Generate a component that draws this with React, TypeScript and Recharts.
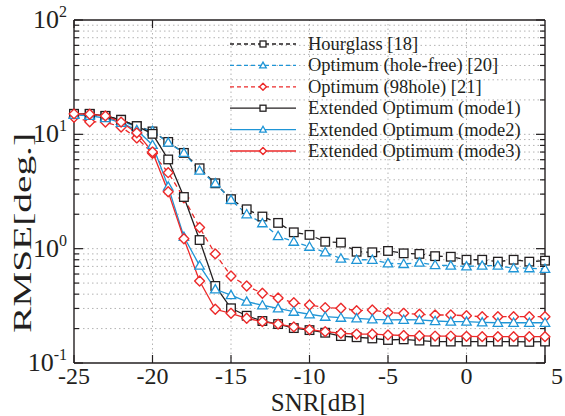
import React from "react";
import {
  LineChart,
  Line,
  XAxis,
  YAxis,
  ReferenceLine,
  Legend,
} from "recharts";

// SNR [dB]
const snr = [
  -25, -24, -23, -22, -21, -20, -19, -18, -17, -16, -15, -14, -13, -12, -11, -10,
  -9, -8, -7, -6, -5, -4, -3, -2, -1, 0, 1, 2, 3, 4, 5,
];

// RMSE [deg.]
const hourglass = [
  15.1, 15.1, 14.5, 13.4, 11.8, 10.6, 8.58, 6.88, 5.05, 3.73, 2.71, 2.21, 1.91,
  1.68, 1.39, 1.32, 1.15, 1.13, 0.94, 0.93, 0.955, 0.91, 0.9, 0.86, 0.85, 0.8,
  0.8, 0.77, 0.8, 0.77, 0.785,
];
const holeFree = [
  14.8, 14.8, 14.2, 13.1, 11.6, 10.7, 8.46, 6.88, 4.81, 3.73, 2.67, 2.0, 1.67,
  1.29, 1.15, 1.04, 0.93, 0.82, 0.8, 0.8, 0.745, 0.735, 0.755, 0.72, 0.71, 0.7,
  0.71, 0.71, 0.675, 0.675, 0.665,
];
const hole98 = [
  14.1, 12.9, 12.8, 11.6, 9.3, 6.83, 4.62, 2.78, 1.53, 0.9, 0.577, 0.472, 0.407,
  0.37, 0.337, 0.322, 0.305, 0.301, 0.287, 0.291, 0.276, 0.272, 0.267, 0.263,
  0.263, 0.259, 0.254, 0.254, 0.254, 0.254, 0.254,
];
const mode1 = [
  15.1, 15.1, 14.5, 13.4, 11.8, 10.1, 6.03, 2.83, 1.19, 0.472, 0.301, 0.259,
  0.233, 0.219, 0.202, 0.194, 0.184, 0.172, 0.168, 0.164, 0.159, 0.161, 0.157,
  0.154, 0.154, 0.154, 0.154, 0.154, 0.154, 0.153, 0.154,
];
const mode2 = [
  14.8, 14.5, 13.9, 12.6, 10.9, 8.08, 3.49, 1.27, 0.71, 0.441, 0.393, 0.344,
  0.32, 0.301, 0.281, 0.267, 0.254, 0.249, 0.246, 0.241, 0.238, 0.239, 0.238,
  0.233, 0.23, 0.23, 0.227, 0.225, 0.225, 0.225, 0.225,
];
const mode3 = [
  15.1, 15.0, 14.5, 12.8, 10.3, 7.02, 3.15, 1.22, 0.522, 0.295, 0.272, 0.246,
  0.23, 0.219, 0.207, 0.196, 0.188, 0.182, 0.179, 0.179, 0.176, 0.174, 0.173,
  0.172, 0.172, 0.171, 0.17, 0.17, 0.17, 0.17, 0.17,
];

const xTicks = [-25, -20, -15, -10, -5, 0, 5];
const xGrid = [-20, -15, -10, -5, 0];
const yDecades = [0.1, 1, 10, 100];
const yExponents = ["-1", "0", "1", "2"];
const yTicks = [
  0.1, 0.2, 0.3, 0.4, 0.5, 0.6, 0.7, 0.8, 0.9, 1, 2, 3, 4, 5, 6, 7, 8, 9, 10,
  20, 30, 40, 50, 60, 70, 80, 90, 100,
];
const yGrid = yTicks.filter((v) => v > 0.1 && v < 100);

const BLACK = "#231f20";
const BLUE = "#1f95d6";
const RED = "#ec2a2a";
const FONT = "'Liberation Serif', 'Times New Roman', serif";

const data = snr.map((s, i) => ({
  snr: s,
  hourglass: hourglass[i],
  holeFree: holeFree[i],
  hole98: hole98[i],
  mode1: mode1[i],
  mode2: mode2[i],
  mode3: mode3[i],
}));

type Shape = "square" | "triangle" | "diamond";

function Marker({ cx, cy, shape, color, r }: any) {
  if (cx == null || cy == null) return null;
  if (shape === "square")
    return (
      <rect x={cx - r} y={cy - r} width={2 * r} height={2 * r} fill="#fff" stroke={color} strokeWidth={1.3} />
    );
  if (shape === "triangle") {
    const h = r * 1.1;
    return (
      <polygon
        points={`${cx},${cy - h} ${cx - h},${cy + h * 0.75} ${cx + h},${cy + h * 0.75}`}
        fill="#fff"
        stroke={color}
        strokeWidth={1.3}
      />
    );
  }
  const d = r * 1.15;
  return (
    <polygon
      points={`${cx},${cy - d} ${cx + d},${cy} ${cx},${cy + d} ${cx - d},${cy}`}
      fill="#fff"
      stroke={color}
      strokeWidth={1.4}
      strokeLinejoin="round"
    />
  );
}

const series: { key: string; name: string; color: string; dashed: boolean; shape: Shape }[] = [
  { key: "hourglass", name: "Hourglass [18]", color: BLACK, dashed: true, shape: "square" },
  { key: "holeFree", name: "Optimum (hole-free) [20]", color: BLUE, dashed: true, shape: "triangle" },
  { key: "hole98", name: "Optimum (98hole) [21]", color: RED, dashed: true, shape: "diamond" },
  { key: "mode1", name: "Extended Optimum (mode1)", color: BLACK, dashed: false, shape: "square" },
  { key: "mode2", name: "Extended Optimum (mode2)", color: BLUE, dashed: false, shape: "triangle" },
  { key: "mode3", name: "Extended Optimum (mode3)", color: RED, dashed: false, shape: "diamond" },
];

function BottomTick({ x, y, payload }: any) {
  const v = payload.value;
  const tx = v === 5 ? x + 12 : x;
  return (
    <g>
      <line x1={x} y1={y} x2={x} y2={y - 8} stroke={BLACK} strokeWidth={1.2} />
      <text x={tx} y={y + 21} textAnchor="middle" fontSize={24} fontFamily={FONT} fill={BLACK}>
        {v}
      </text>
    </g>
  );
}

function TopTick({ x, y }: any) {
  return <line x1={x} y1={y} x2={x} y2={y + 8} stroke={BLACK} strokeWidth={1.2} />;
}

function LeftTick({ x, y, payload }: any) {
  const v = payload.value;
  const idx = yDecades.indexOf(v);
  const len = idx >= 0 ? 9 : 5;
  return (
    <g>
      <line x1={x} y1={y} x2={x + len} y2={y} stroke={BLACK} strokeWidth={1.2} />
      {idx >= 0 && (
        <text x={67} y={y + 8} textAnchor="end" fontSize={26} fontFamily={FONT} fill={BLACK}>
          10
          <tspan dy={-11} fontSize={16}>
            {yExponents[idx]}
          </tspan>
        </text>
      )}
    </g>
  );
}

function RightTick({ x, y, payload }: any) {
  const len = yDecades.includes(payload.value) ? 9 : 5;
  return <line x1={x} y1={y} x2={x - len} y2={y} stroke={BLACK} strokeWidth={1.2} />;
}

function LegendBox() {
  return (
    <svg width={565} height={416} style={{ display: "block" }}>
      {series.map((s, i) => {
        const y = 44 + i * 21.4;
        return (
          <g key={s.key}>
            <line
              x1={230}
              y1={y}
              x2={296}
              y2={y}
              stroke={s.color}
              strokeWidth={1.3}
              strokeDasharray={s.dashed ? "4 3" : undefined}
            />
            <Marker cx={263} cy={y} shape={s.shape} color={s.color} r={3} />
            <text x={308} y={y + 6} fontSize={18.5} fontFamily={FONT} fill={BLACK}>
              {s.name}
            </text>
          </g>
        );
      })}
    </svg>
  );
}

export default function App() {
  return (
    <div style={{ position: "absolute", left: 0, top: 0, background: "#fff" }}>
      <LineChart width={565} height={416} data={data} margin={{ top: 0, right: 0, bottom: 0, left: 0 }}>
        <XAxis
          dataKey="snr"
          type="number"
          domain={[-25, 5]}
          ticks={xTicks}
          interval={0}
          height={53}
          tickSize={0}
          tickMargin={0}
          tick={<BottomTick />}
          axisLine={{ stroke: BLACK, strokeWidth: 1.4 }}
          label={{
            content: () => (
              <text x={318} y={411} textAnchor="middle" fontSize={25} fontFamily={FONT} fill={BLACK}>
                SNR[dB]
              </text>
            ),
          }}
        />
        <XAxis
          xAxisId="top"
          orientation="top"
          type="number"
          domain={[-25, 5]}
          ticks={xTicks}
          interval={0}
          height={20}
          tickSize={0}
          tickMargin={0}
          tick={<TopTick />}
          axisLine={{ stroke: BLACK, strokeWidth: 1.4 }}
        />
        <YAxis
          scale="log"
          domain={[0.1, 100]}
          ticks={yTicks}
          interval={0}
          width={74}
          tickSize={0}
          tickMargin={0}
          allowDataOverflow
          tick={<LeftTick />}
          axisLine={{ stroke: BLACK, strokeWidth: 1.4 }}
          label={{
            content: () => (
              <text
                x={0}
                y={0}
                transform="translate(31 233) rotate(-90)"
                textAnchor="middle"
                fontSize={25}
                fontFamily={FONT}
                fill={BLACK}
                textLength={200}
                lengthAdjust="spacingAndGlyphs"
              >
                RMSE[deg.]
              </text>
            ),
          }}
        />
        <YAxis
          yAxisId="right"
          orientation="right"
          scale="log"
          domain={[0.1, 100]}
          ticks={yTicks}
          interval={0}
          width={20}
          tickSize={0}
          tickMargin={0}
          allowDataOverflow
          tick={<RightTick />}
          axisLine={{ stroke: BLACK, strokeWidth: 1.4 }}
        />
        {yGrid.map((v) => (
          <ReferenceLine key={"h" + v} y={v} stroke="#b3b3b3" strokeDasharray="1.5 3" />
        ))}
        {xGrid.map((v) => (
          <ReferenceLine key={"v" + v} x={v} stroke="#b3b3b3" strokeDasharray="1.5 3" />
        ))}
        <Legend
          layout="vertical"
          align="center"
          verticalAlign="middle"
          wrapperStyle={{ left: 0, top: 0, width: 565, height: 416, pointerEvents: "none" }}
          content={() => <LegendBox />}
        />
        {series.map((s) => (
          <Line
            key={s.key}
            dataKey={s.key}
            name={s.name}
            stroke={s.color}
            strokeWidth={1.3}
            strokeDasharray={s.dashed ? "5 4" : undefined}
            isAnimationActive={false}
            dot={(p: any) => (
              <Marker key={s.key + p.index} cx={p.cx} cy={p.cy} shape={s.shape} color={s.color} r={4.3} />
            )}
          />
        ))}
      </LineChart>
    </div>
  );
}
